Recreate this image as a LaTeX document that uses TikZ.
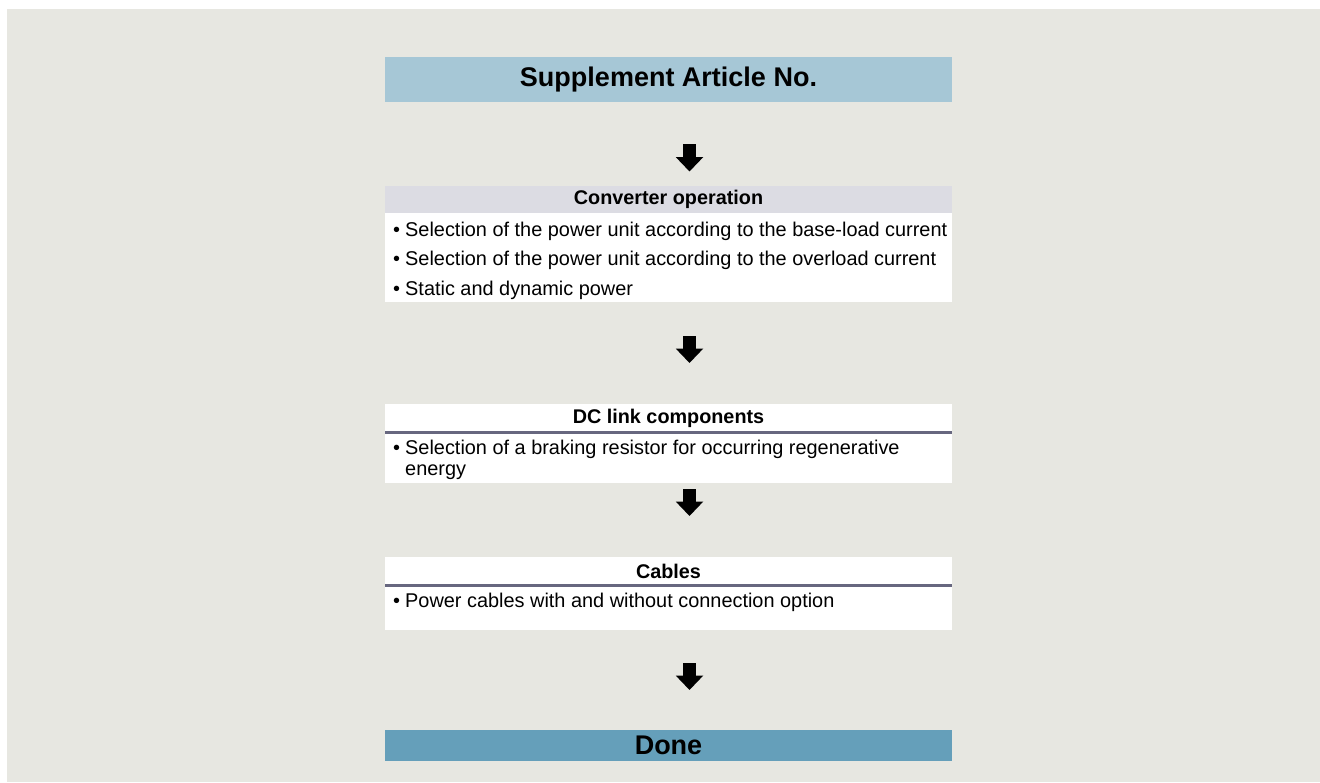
\documentclass[tikz,border=0pt]{standalone}
\usepackage{fontspec}
\setmainfont{Liberation Sans}
\usetikzlibrary{arrows.meta}
\definecolor{bg}{HTML}{E7E7E1}
\definecolor{suppcol}{HTML}{A6C7D6}
\definecolor{convhdr}{HTML}{DCDCE3}
\definecolor{sepcol}{HTML}{67677F}
\definecolor{donecol}{HTML}{659FBA}
\tikzset{
  bar/.style={minimum width=567pt, inner sep=0pt, outer sep=0pt, draw=none},
  bigtxt/.style={font=\fontsize{27}{30}\selectfont\bfseries},
  hdrtxt/.style={font=\fontsize{19.8}{22}\selectfont\bfseries},
  bodytxt/.style={font=\fontsize{19.9}{22.5}\selectfont, inner sep=0pt, anchor=base west},
  bul/.style={font=\fontsize{19.9}{22.5}\selectfont, inner sep=0pt, anchor=base west},
  sepline/.style={draw=sepcol, line width=3pt},
  flowarrow/.style={line width=12.4pt, -{Triangle[length=14.4pt,width=26.6pt]}},
}
\begin{document}
\begin{tikzpicture}[x=1pt,y=-1pt]
\useasboundingbox (0,0) rectangle (1320,782);
\fill[white] (0,0) rectangle (1320,782);
\fill[bg] (7,9) rectangle (1320,782);
% Supplement
\node[bar, fill=suppcol, minimum height=45pt, bigtxt] (sup) at (668.5,79.5) {Supplement Article No.};
% Converter operation
\node[bar, fill=convhdr, minimum height=27pt, hdrtxt] (convh) at (668.5,199.5) {Converter operation};
\node[bar, fill=white, minimum height=89pt, anchor=north] (convb) at (convh.south) {};
\node[bul] (c1b) at (393,236) {\textbullet};
\node[bodytxt] (c1) at (405,236) {Selection of the power unit according to the base-load current};
\node[bul] (c2b) at (393,265.5) {\textbullet};
\node[bodytxt] (c2) at (405,265.5) {Selection of the power unit according to the overload current};
\node[bul] (c3b) at (393,295) {\textbullet};
\node[bodytxt] (c3) at (405,295) {Static and dynamic power};
% DC link
\node[bar, fill=white, minimum height=28.5pt, hdrtxt] (dch) at (668.5,418.25) {DC link components};
\node[bar, fill=white, minimum height=50.5pt, anchor=north] (dcb) at (dch.south) {};
\draw[sepline] (dch.south west) -- (dch.south east);
\node[bul] (d1b) at (393,454) {\textbullet};
\node[bodytxt] (d1) at (405,454) {Selection of a braking resistor for occurring regenerative};
\node[bodytxt] (d2) at (405,475.5) {energy};
% Cables
\node[bar, fill=white, minimum height=28.5pt, hdrtxt] (cabh) at (668.5,571.25) {Cables};
\node[bar, fill=white, minimum height=44.5pt, anchor=north] (cabb) at (cabh.south) {};
\draw[sepline] (cabh.south west) -- (cabh.south east);
\node[bul] (k1b) at (393,607) {\textbullet};
\node[bodytxt] (k1) at (405,607) {Power cables with and without connection option};
% Done
\node[bar, fill=donecol, minimum height=31pt, bigtxt] (done) at (668.5,745.5) {Done};
% Arrows
\coordinate (a1s) at ([xshift=21pt,yshift=-42pt]sup.south);
\coordinate (a1e) at ([xshift=21pt,yshift=14.5pt]convh.north);
\draw[flowarrow] (a1s) -- (a1e);
\coordinate (a2s) at ([xshift=21pt,yshift=-34pt]convb.south);
\coordinate (a2e) at ([xshift=21pt,yshift=41pt]dch.north);
\draw[flowarrow] (a2s) -- (a2e);
\coordinate (a3s) at ([xshift=21pt,yshift=-6pt]dcb.south);
\coordinate (a3e) at ([xshift=21pt,yshift=41pt]cabh.north);
\draw[flowarrow] (a3s) -- (a3e);
\coordinate (a4s) at ([xshift=21pt,yshift=-33pt]cabb.south);
\coordinate (a4e) at ([xshift=21pt,yshift=40pt]done.north);
\draw[flowarrow] (a4s) -- (a4e);
\end{tikzpicture}
\end{document}
